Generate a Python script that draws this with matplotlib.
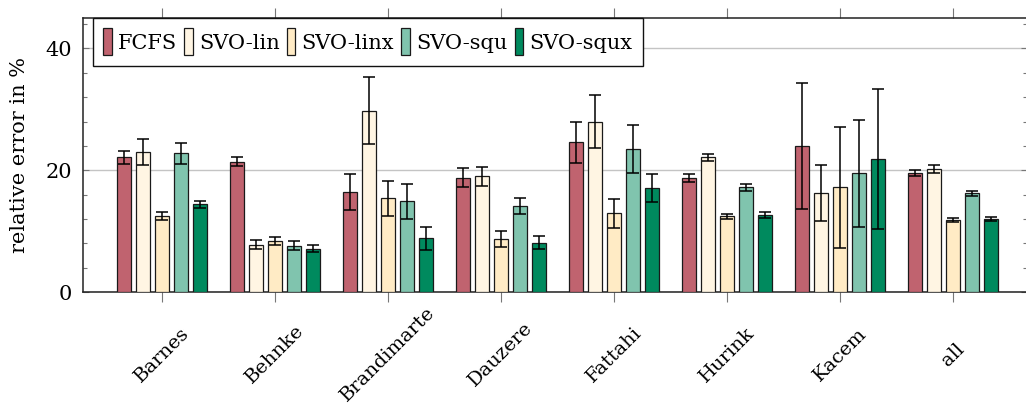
import matplotlib

matplotlib.use("Agg")
import matplotlib.pyplot as plt
import numpy as np
from matplotlib.ticker import MultipleLocator

plt.rcParams["font.family"] = ["DejaVu Serif"]

groups = ["Barnes", "Behnke", "Brandimarte", "Dauzere", "Fattahi", "Hurink", "Kacem", "all"]
series = ["FCFS", "SVO-lin", "SVO-linx", "SVO-squ", "SVO-squx"]

fcfs = [22.1, 21.4, 16.4, 18.8, 24.6, 18.7, 24.0, 19.6]
fcfs_err = [1.0, 0.7, 2.9, 1.6, 3.4, 0.7, 10.4, 0.5]
svo_lin = [23.0, 7.8, 29.8, 19.0, 28.0, 22.1, 16.2, 20.2]
svo_lin_err = [2.1, 0.7, 5.5, 1.6, 4.3, 0.6, 4.6, 0.6]
svo_linx = [12.5, 8.4, 15.4, 8.7, 12.9, 12.4, 17.2, 11.8]
svo_linx_err = [0.7, 0.6, 2.9, 1.3, 2.4, 0.45, 9.9, 0.35]
svo_squ = [22.8, 7.6, 14.9, 14.1, 23.5, 17.2, 19.5, 16.2]
svo_squ_err = [1.7, 0.7, 2.9, 1.3, 4.0, 0.55, 8.8, 0.45]
svo_squx = [14.4, 7.1, 8.8, 8.1, 17.1, 12.6, 21.8, 12.0]
svo_squx_err = [0.6, 0.6, 1.9, 1.1, 2.3, 0.5, 11.5, 0.35]

values = [fcfs, svo_lin, svo_linx, svo_squ, svo_squx]
errors = [fcfs_err, svo_lin_err, svo_linx_err, svo_squ_err, svo_squx_err]
colors = ["#c0636f", "#fff5e3", "#ffebc5", "#80c4ae", "#008a5e"]
fs = 15

fig = plt.figure(figsize=(10.26, 4.08), dpi=100)
ax = fig.add_axes([0.0809, 0.2843, 0.9205, 0.6716])

x = np.arange(len(groups))
step = 0.168
width = 0.124
for ii, (name, vals, errs, col) in enumerate(zip(series, values, errors, colors)):
    ax.bar(
        x + (ii - 2) * step,
        vals,
        width,
        yerr=errs,
        color=col,
        edgecolor="#1a1a1a",
        linewidth=0.9,
        label=name,
        zorder=3,
        error_kw=dict(ecolor="black", elinewidth=1.1, capsize=4.3, capthick=1.1, zorder=4),
    )

ax.set_xlim(-0.70, 7.66)
ax.set_ylim(0, 45)
ax.yaxis.set_major_locator(MultipleLocator(20))
ax.yaxis.set_minor_locator(MultipleLocator(4))
ax.grid(axis="y", which="major", color="#c4c4c4", linewidth=1.0, zorder=0)

# rotated group names, centred under each tick
ax.set_xticks(x)
ax.set_xticklabels(groups, fontsize=14)
ax.tick_params(axis="x", direction="out", length=7, width=0.8, color="#777777",
               top=True, pad=38)
plt.setp(ax.get_xticklabels(), rotation=45, ha="center", va="center",
         rotation_mode="anchor")
ax.tick_params(axis="y", which="both", direction="in", right=True, color="#777777",
               width=0.8, labelsize=fs, pad=8)
ax.tick_params(axis="y", which="major", length=4)
ax.tick_params(axis="y", which="minor", length=3)

for side in ["left", "bottom", "top", "right"]:
    ax.spines[side].set_linewidth(1.1)
    ax.spines[side].set_color("#222222")

ax.set_ylabel("relative error in %", fontsize=fs, labelpad=12)

leg = ax.legend(
    loc="upper left",
    bbox_to_anchor=(0.0106, 1.0),
    ncol=5,
    fontsize=fs,
    frameon=True,
    fancybox=False,
    framealpha=1,
    edgecolor="#111111",
    borderaxespad=0,
    handlelength=0.4,
    handleheight=1.6,
    handletextpad=0.3,
    columnspacing=0.35,
    borderpad=0.5,
)
leg.get_frame().set_linewidth(1.0)
leg.set_zorder(5)

fig.savefig("out.png", dpi=100)
